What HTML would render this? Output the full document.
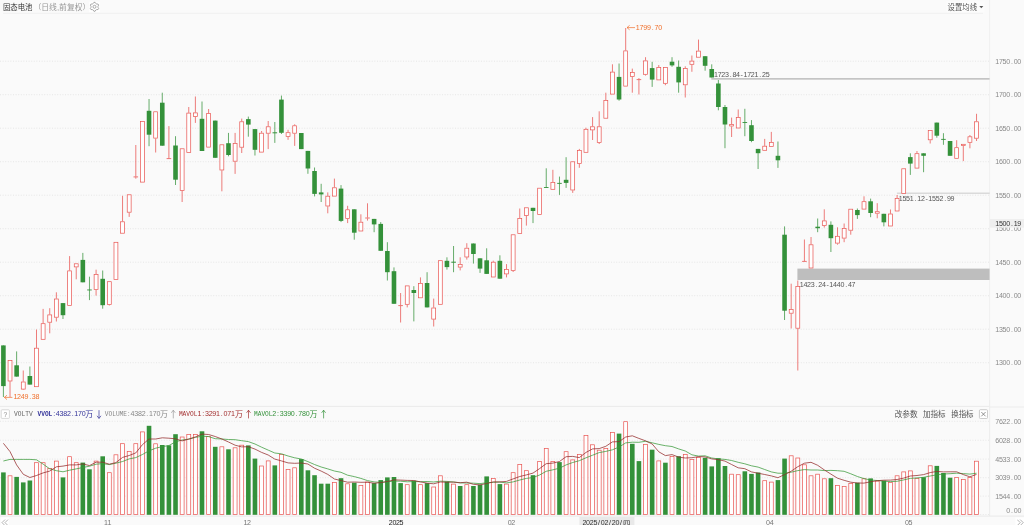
<!DOCTYPE html>
<html lang="zh"><head><meta charset="utf-8"><title>固态电池</title>
<style>html,body{margin:0;padding:0;background:#fafafa;overflow:hidden}svg{display:block}text{font-family:"Liberation Sans","Noto Sans CJK SC",sans-serif;}</style>
</head><body>
<svg width="1024" height="525" viewBox="0 0 1024 525">
<rect x="0" y="0" width="1024" height="525" fill="#fafafa"/>
<line x1="3" y1="13.4" x2="983" y2="13.4" stroke="#efefef" stroke-width="0.8"/>
<line x1="989.6" y1="0" x2="989.6" y2="516" stroke="#ececec" stroke-width="0.8"/>
<text x="3.0" y="10.2" font-size="7.60" fill="#333" textLength="29.5" lengthAdjust="spacingAndGlyphs">固态电池</text>
<text x="33.4" y="10.2" font-size="7.60" fill="#999" textLength="57.0" lengthAdjust="spacingAndGlyphs">（日线,前复权）</text>
<rect x="89.2" y="1.6" width="10.6" height="10.6" fill="#fff"/>
<g fill="none" stroke="#8a8a8a" stroke-width="0.7" stroke-linejoin="round"><path d="M93.91 2.34 L95.09 2.34 L95.84 3.57 L96.63 4.02 L98.07 4.06 L98.66 5.08 L97.97 6.34 L97.97 7.26 L98.66 8.52 L98.07 9.54 L96.63 9.58 L95.84 10.03 L95.09 11.26 L93.91 11.26 L93.16 10.03 L92.37 9.58 L90.93 9.54 L90.34 8.52 L91.03 7.26 L91.03 6.34 L90.34 5.08 L90.93 4.06 L92.37 4.02 L93.16 3.57 Z"/><circle cx="94.5" cy="6.8" r="1.5"/></g>
<rect x="946.5" y="1.6" width="38" height="10.6" fill="#fcfcfc"/>
<text x="947.6" y="10.2" font-size="7.60" fill="#555" textLength="29.5" lengthAdjust="spacingAndGlyphs">设置均线</text>
<path d="M979.3 6 L983.3 6 L981.3 8.2 Z" fill="#555"/>
<line x1="0" y1="362.7" x2="989.6" y2="362.7" stroke="#e0e0e0" stroke-width="0.7" stroke-dasharray="1 1.6"/>
<text transform="translate(995.40 365.1) scale(0.90 1)" x="2.04 6.13 10.22 14.31 18.40 22.49 26.58" y="0" font-size="7.90" fill="#8a8a8a" style="font-family:'Liberation Sans','Noto Sans CJK SC',sans-serif" text-anchor="middle">1300.00</text>
<line x1="0" y1="329.2" x2="989.6" y2="329.2" stroke="#e0e0e0" stroke-width="0.7" stroke-dasharray="1 1.6"/>
<text transform="translate(995.40 331.6) scale(0.90 1)" x="2.04 6.13 10.22 14.31 18.40 22.49 26.58" y="0" font-size="7.90" fill="#8a8a8a" style="font-family:'Liberation Sans','Noto Sans CJK SC',sans-serif" text-anchor="middle">1350.00</text>
<line x1="0" y1="295.7" x2="989.6" y2="295.7" stroke="#e0e0e0" stroke-width="0.7" stroke-dasharray="1 1.6"/>
<text transform="translate(995.40 298.1) scale(0.90 1)" x="2.04 6.13 10.22 14.31 18.40 22.49 26.58" y="0" font-size="7.90" fill="#8a8a8a" style="font-family:'Liberation Sans','Noto Sans CJK SC',sans-serif" text-anchor="middle">1400.00</text>
<line x1="0" y1="262.2" x2="989.6" y2="262.2" stroke="#e0e0e0" stroke-width="0.7" stroke-dasharray="1 1.6"/>
<text transform="translate(995.40 264.6) scale(0.90 1)" x="2.04 6.13 10.22 14.31 18.40 22.49 26.58" y="0" font-size="7.90" fill="#8a8a8a" style="font-family:'Liberation Sans','Noto Sans CJK SC',sans-serif" text-anchor="middle">1450.00</text>
<line x1="0" y1="228.7" x2="989.6" y2="228.7" stroke="#e0e0e0" stroke-width="0.7" stroke-dasharray="1 1.6"/>
<text transform="translate(995.40 231.1) scale(0.90 1)" x="2.04 6.13 10.22 14.31 18.40 22.49 26.58" y="0" font-size="7.90" fill="#8a8a8a" style="font-family:'Liberation Sans','Noto Sans CJK SC',sans-serif" text-anchor="middle">1500.00</text>
<line x1="0" y1="195.2" x2="989.6" y2="195.2" stroke="#e0e0e0" stroke-width="0.7" stroke-dasharray="1 1.6"/>
<text transform="translate(995.40 197.6) scale(0.90 1)" x="2.04 6.13 10.22 14.31 18.40 22.49 26.58" y="0" font-size="7.90" fill="#8a8a8a" style="font-family:'Liberation Sans','Noto Sans CJK SC',sans-serif" text-anchor="middle">1550.00</text>
<line x1="0" y1="161.7" x2="989.6" y2="161.7" stroke="#e0e0e0" stroke-width="0.7" stroke-dasharray="1 1.6"/>
<text transform="translate(995.40 164.1) scale(0.90 1)" x="2.04 6.13 10.22 14.31 18.40 22.49 26.58" y="0" font-size="7.90" fill="#8a8a8a" style="font-family:'Liberation Sans','Noto Sans CJK SC',sans-serif" text-anchor="middle">1600.00</text>
<line x1="0" y1="128.2" x2="989.6" y2="128.2" stroke="#e0e0e0" stroke-width="0.7" stroke-dasharray="1 1.6"/>
<text transform="translate(995.40 130.6) scale(0.90 1)" x="2.04 6.13 10.22 14.31 18.40 22.49 26.58" y="0" font-size="7.90" fill="#8a8a8a" style="font-family:'Liberation Sans','Noto Sans CJK SC',sans-serif" text-anchor="middle">1650.00</text>
<line x1="0" y1="94.7" x2="989.6" y2="94.7" stroke="#e0e0e0" stroke-width="0.7" stroke-dasharray="1 1.6"/>
<text transform="translate(995.40 97.1) scale(0.90 1)" x="2.04 6.13 10.22 14.31 18.40 22.49 26.58" y="0" font-size="7.90" fill="#8a8a8a" style="font-family:'Liberation Sans','Noto Sans CJK SC',sans-serif" text-anchor="middle">1700.00</text>
<line x1="0" y1="61.2" x2="989.6" y2="61.2" stroke="#e0e0e0" stroke-width="0.7" stroke-dasharray="1 1.6"/>
<text transform="translate(995.40 63.6) scale(0.90 1)" x="2.04 6.13 10.22 14.31 18.40 22.49 26.58" y="0" font-size="7.90" fill="#8a8a8a" style="font-family:'Liberation Sans','Noto Sans CJK SC',sans-serif" text-anchor="middle">1750.00</text>
<rect x="711.3" y="78" width="278.3" height="1.7" fill="#c4c4c4"/>
<text transform="translate(714.10 76.7) scale(0.90 1)" x="2.05 6.15 10.25 14.35 18.45 22.55 26.65 30.75 34.85 38.95 43.05 47.15 51.25 55.35 59.45" y="0" font-size="7.90" fill="#555" style="font-family:'Liberation Sans','Noto Sans CJK SC',sans-serif" text-anchor="middle">1723.84-1721.25</text>
<rect x="896.9" y="192.8" width="92.7" height="0.6" fill="#aaa"/>
<text transform="translate(898.80 201.1) scale(0.90 1)" x="2.06 6.18 10.31 14.43 18.55 22.67 26.79 30.92 35.04 39.16 43.28 47.41 51.53 55.65 59.77" y="0" font-size="7.90" fill="#555" style="font-family:'Liberation Sans','Noto Sans CJK SC',sans-serif" text-anchor="middle">1551.12-1552.99</text>
<rect x="797.4" y="268.6" width="192.2" height="11.4" fill="#bebebe"/>
<text transform="translate(799.80 286.8) scale(0.90 1)" x="2.06 6.18 10.31 14.43 18.55 22.67 26.79 30.92 35.04 39.16 43.28 47.41 51.53 55.65 59.77" y="0" font-size="7.90" fill="#555" style="font-family:'Liberation Sans','Noto Sans CJK SC',sans-serif" text-anchor="middle">1423.24-1440.47</text>
<line x1="3.40" y1="345.4" x2="3.40" y2="397.0" stroke="#34913a" stroke-width="0.75"/>
<rect x="1.10" y="345.4" width="4.6" height="40.7" fill="#34913a"/>
<line x1="10.02" y1="381.3" x2="10.02" y2="397.0" stroke="#e8524f" stroke-width="0.75"/>
<rect x="8.07" y="360.6" width="3.9" height="20.4" fill="#fff" stroke="#e8524f" stroke-width="0.7"/>
<line x1="16.64" y1="351.4" x2="16.64" y2="376.6" stroke="#34913a" stroke-width="0.75"/>
<rect x="14.34" y="365.3" width="4.6" height="11.3" fill="#34913a"/>
<line x1="23.26" y1="370.5" x2="23.26" y2="381.6" stroke="#e8524f" stroke-width="0.75"/>
<line x1="23.26" y1="389.4" x2="23.26" y2="389.9" stroke="#e8524f" stroke-width="0.75"/>
<rect x="21.31" y="382.0" width="3.9" height="7.1" fill="#fff" stroke="#e8524f" stroke-width="0.7"/>
<line x1="29.88" y1="366.5" x2="29.88" y2="384.6" stroke="#34913a" stroke-width="0.75"/>
<rect x="27.58" y="376.0" width="4.6" height="8.6" fill="#34913a"/>
<line x1="36.50" y1="329.5" x2="36.50" y2="347.9" stroke="#e8524f" stroke-width="0.75"/>
<rect x="34.55" y="348.2" width="3.9" height="38.5" fill="#fff" stroke="#e8524f" stroke-width="0.7"/>
<line x1="43.12" y1="308.9" x2="43.12" y2="323.3" stroke="#e8524f" stroke-width="0.75"/>
<rect x="41.17" y="323.7" width="3.9" height="15.6" fill="#fff" stroke="#e8524f" stroke-width="0.7"/>
<line x1="49.74" y1="308.2" x2="49.74" y2="314.5" stroke="#e8524f" stroke-width="0.75"/>
<line x1="49.74" y1="322.5" x2="49.74" y2="333.3" stroke="#e8524f" stroke-width="0.75"/>
<rect x="47.79" y="314.9" width="3.9" height="7.3" fill="#fff" stroke="#e8524f" stroke-width="0.7"/>
<line x1="56.36" y1="292.3" x2="56.36" y2="298.6" stroke="#e8524f" stroke-width="0.75"/>
<line x1="56.36" y1="317.5" x2="56.36" y2="321.5" stroke="#e8524f" stroke-width="0.75"/>
<rect x="54.41" y="299.0" width="3.9" height="18.2" fill="#fff" stroke="#e8524f" stroke-width="0.7"/>
<line x1="62.98" y1="303.1" x2="62.98" y2="319.0" stroke="#34913a" stroke-width="0.75"/>
<rect x="60.68" y="303.1" width="4.6" height="12.1" fill="#34913a"/>
<line x1="69.60" y1="256.1" x2="69.60" y2="270.5" stroke="#e8524f" stroke-width="0.75"/>
<rect x="67.65" y="270.9" width="3.9" height="34.5" fill="#fff" stroke="#e8524f" stroke-width="0.7"/>
<line x1="76.22" y1="267.2" x2="76.22" y2="279.3" stroke="#e8524f" stroke-width="0.75"/>
<rect x="74.27" y="263.8" width="3.9" height="3.1" fill="#fff" stroke="#e8524f" stroke-width="0.7"/>
<line x1="82.84" y1="252.9" x2="82.84" y2="282.3" stroke="#34913a" stroke-width="0.75"/>
<rect x="80.54" y="259.9" width="4.6" height="22.4" fill="#34913a"/>
<line x1="89.46" y1="276.7" x2="89.46" y2="300.1" stroke="#34913a" stroke-width="0.75"/>
<rect x="87.16" y="289.5" width="4.6" height="0.9" fill="#34913a"/>
<line x1="96.08" y1="269.7" x2="96.08" y2="274.2" stroke="#e8524f" stroke-width="0.75"/>
<line x1="96.08" y1="289.8" x2="96.08" y2="295.6" stroke="#e8524f" stroke-width="0.75"/>
<rect x="94.13" y="274.6" width="3.9" height="14.9" fill="#fff" stroke="#e8524f" stroke-width="0.7"/>
<line x1="102.70" y1="270.5" x2="102.70" y2="308.7" stroke="#34913a" stroke-width="0.75"/>
<rect x="100.40" y="278.8" width="4.6" height="26.4" fill="#34913a"/>
<line x1="109.32" y1="304.9" x2="109.32" y2="305.5" stroke="#e8524f" stroke-width="0.75"/>
<rect x="107.37" y="281.7" width="3.9" height="22.9" fill="#fff" stroke="#e8524f" stroke-width="0.7"/>
<rect x="113.99" y="242.3" width="3.9" height="37.3" fill="#fff" stroke="#e8524f" stroke-width="0.7"/>
<line x1="122.56" y1="195.8" x2="122.56" y2="221.4" stroke="#e8524f" stroke-width="0.75"/>
<rect x="120.61" y="221.8" width="3.9" height="11.4" fill="#fff" stroke="#e8524f" stroke-width="0.7"/>
<line x1="129.18" y1="212.6" x2="129.18" y2="216.9" stroke="#e8524f" stroke-width="0.75"/>
<rect x="127.23" y="194.8" width="3.9" height="17.4" fill="#fff" stroke="#e8524f" stroke-width="0.7"/>
<line x1="135.80" y1="145.0" x2="135.80" y2="176.6" stroke="#e8524f" stroke-width="0.75"/>
<line x1="135.80" y1="177.2" x2="135.80" y2="178.7" stroke="#e8524f" stroke-width="0.75"/>
<line x1="133.50" y1="176.9" x2="138.10" y2="176.9" stroke="#e8524f" stroke-width="0.8"/>
<rect x="140.47" y="121.4" width="3.9" height="60.7" fill="#fff" stroke="#e8524f" stroke-width="0.7"/>
<line x1="149.04" y1="99.0" x2="149.04" y2="146.2" stroke="#34913a" stroke-width="0.75"/>
<rect x="146.74" y="110.8" width="4.6" height="23.9" fill="#34913a"/>
<line x1="155.66" y1="138.5" x2="155.66" y2="152.5" stroke="#e8524f" stroke-width="0.75"/>
<rect x="153.71" y="111.8" width="3.9" height="26.3" fill="#fff" stroke="#e8524f" stroke-width="0.7"/>
<line x1="162.28" y1="92.7" x2="162.28" y2="145.7" stroke="#34913a" stroke-width="0.75"/>
<rect x="159.98" y="102.7" width="4.6" height="43.0" fill="#34913a"/>
<line x1="168.90" y1="126.1" x2="168.90" y2="158.3" stroke="#e8524f" stroke-width="0.75"/>
<line x1="166.60" y1="158.6" x2="171.20" y2="158.6" stroke="#e8524f" stroke-width="0.8"/>
<line x1="175.52" y1="136.2" x2="175.52" y2="185.0" stroke="#34913a" stroke-width="0.75"/>
<rect x="173.22" y="145.5" width="4.6" height="34.2" fill="#34913a"/>
<line x1="182.14" y1="190.8" x2="182.14" y2="202.0" stroke="#e8524f" stroke-width="0.75"/>
<rect x="180.19" y="148.8" width="3.9" height="41.6" fill="#fff" stroke="#e8524f" stroke-width="0.7"/>
<line x1="188.76" y1="107.0" x2="188.76" y2="112.8" stroke="#e8524f" stroke-width="0.75"/>
<rect x="186.81" y="113.1" width="3.9" height="39.5" fill="#fff" stroke="#e8524f" stroke-width="0.7"/>
<line x1="195.38" y1="96.5" x2="195.38" y2="112.6" stroke="#e8524f" stroke-width="0.75"/>
<line x1="195.38" y1="116.8" x2="195.38" y2="122.9" stroke="#e8524f" stroke-width="0.75"/>
<rect x="193.43" y="112.9" width="3.9" height="3.5" fill="#fff" stroke="#e8524f" stroke-width="0.7"/>
<line x1="202.00" y1="101.5" x2="202.00" y2="151.0" stroke="#34913a" stroke-width="0.75"/>
<rect x="199.70" y="118.8" width="4.6" height="32.2" fill="#34913a"/>
<line x1="208.62" y1="109.0" x2="208.62" y2="113.3" stroke="#e8524f" stroke-width="0.75"/>
<rect x="206.67" y="113.6" width="3.9" height="33.5" fill="#fff" stroke="#e8524f" stroke-width="0.7"/>
<line x1="215.24" y1="120.6" x2="215.24" y2="157.8" stroke="#34913a" stroke-width="0.75"/>
<rect x="212.94" y="120.6" width="4.6" height="37.2" fill="#34913a"/>
<line x1="221.86" y1="170.4" x2="221.86" y2="191.3" stroke="#e8524f" stroke-width="0.75"/>
<rect x="219.91" y="144.8" width="3.9" height="25.2" fill="#fff" stroke="#e8524f" stroke-width="0.7"/>
<line x1="228.48" y1="132.9" x2="228.48" y2="156.3" stroke="#34913a" stroke-width="0.75"/>
<rect x="226.18" y="143.2" width="4.6" height="11.8" fill="#34913a"/>
<line x1="235.10" y1="132.9" x2="235.10" y2="143.2" stroke="#e8524f" stroke-width="0.75"/>
<line x1="235.10" y1="161.6" x2="235.10" y2="173.9" stroke="#e8524f" stroke-width="0.75"/>
<rect x="233.15" y="143.5" width="3.9" height="17.7" fill="#fff" stroke="#e8524f" stroke-width="0.7"/>
<line x1="241.72" y1="118.6" x2="241.72" y2="121.4" stroke="#e8524f" stroke-width="0.75"/>
<line x1="241.72" y1="147.5" x2="241.72" y2="153.0" stroke="#e8524f" stroke-width="0.75"/>
<rect x="239.77" y="121.8" width="3.9" height="25.4" fill="#fff" stroke="#e8524f" stroke-width="0.7"/>
<line x1="248.34" y1="116.6" x2="248.34" y2="136.7" stroke="#34913a" stroke-width="0.75"/>
<rect x="246.04" y="119.1" width="4.6" height="5.5" fill="#34913a"/>
<line x1="254.96" y1="129.1" x2="254.96" y2="155.5" stroke="#34913a" stroke-width="0.75"/>
<rect x="252.66" y="129.1" width="4.6" height="20.7" fill="#34913a"/>
<line x1="261.58" y1="131.0" x2="261.58" y2="132.8" stroke="#e8524f" stroke-width="0.75"/>
<rect x="259.63" y="133.2" width="3.9" height="18.9" fill="#fff" stroke="#e8524f" stroke-width="0.7"/>
<line x1="268.20" y1="121.0" x2="268.20" y2="126.5" stroke="#e8524f" stroke-width="0.75"/>
<line x1="268.20" y1="133.6" x2="268.20" y2="149.1" stroke="#e8524f" stroke-width="0.75"/>
<rect x="266.25" y="126.8" width="3.9" height="6.4" fill="#fff" stroke="#e8524f" stroke-width="0.7"/>
<line x1="274.82" y1="122.0" x2="274.82" y2="142.9" stroke="#34913a" stroke-width="0.75"/>
<rect x="272.52" y="132.3" width="4.6" height="1.0" fill="#34913a"/>
<line x1="281.44" y1="95.6" x2="281.44" y2="134.0" stroke="#34913a" stroke-width="0.75"/>
<rect x="279.14" y="99.6" width="4.6" height="33.2" fill="#34913a"/>
<line x1="288.06" y1="129.8" x2="288.06" y2="132.3" stroke="#e8524f" stroke-width="0.75"/>
<line x1="288.06" y1="136.8" x2="288.06" y2="139.8" stroke="#e8524f" stroke-width="0.75"/>
<rect x="286.11" y="132.7" width="3.9" height="3.8" fill="#fff" stroke="#e8524f" stroke-width="0.7"/>
<line x1="294.68" y1="124.3" x2="294.68" y2="125.5" stroke="#e8524f" stroke-width="0.75"/>
<line x1="294.68" y1="133.6" x2="294.68" y2="145.9" stroke="#e8524f" stroke-width="0.75"/>
<rect x="292.73" y="125.8" width="3.9" height="7.4" fill="#fff" stroke="#e8524f" stroke-width="0.7"/>
<line x1="301.30" y1="133.0" x2="301.30" y2="149.1" stroke="#34913a" stroke-width="0.75"/>
<rect x="299.00" y="133.0" width="4.6" height="16.1" fill="#34913a"/>
<line x1="307.92" y1="150.9" x2="307.92" y2="173.8" stroke="#34913a" stroke-width="0.75"/>
<rect x="305.62" y="150.9" width="4.6" height="17.6" fill="#34913a"/>
<line x1="314.54" y1="167.5" x2="314.54" y2="196.4" stroke="#34913a" stroke-width="0.75"/>
<rect x="312.24" y="171.0" width="4.6" height="22.9" fill="#34913a"/>
<line x1="321.16" y1="183.8" x2="321.16" y2="202.0" stroke="#34913a" stroke-width="0.75"/>
<rect x="318.86" y="192.4" width="4.6" height="2.0" fill="#34913a"/>
<line x1="327.78" y1="192.4" x2="327.78" y2="195.9" stroke="#e8524f" stroke-width="0.75"/>
<line x1="327.78" y1="206.4" x2="327.78" y2="213.3" stroke="#e8524f" stroke-width="0.75"/>
<rect x="325.83" y="196.2" width="3.9" height="9.8" fill="#fff" stroke="#e8524f" stroke-width="0.7"/>
<line x1="334.40" y1="178.6" x2="334.40" y2="187.4" stroke="#e8524f" stroke-width="0.75"/>
<rect x="332.45" y="187.8" width="3.9" height="8.3" fill="#fff" stroke="#e8524f" stroke-width="0.7"/>
<line x1="341.02" y1="185.1" x2="341.02" y2="222.1" stroke="#34913a" stroke-width="0.75"/>
<rect x="338.72" y="188.6" width="4.6" height="32.3" fill="#34913a"/>
<line x1="347.64" y1="205.8" x2="347.64" y2="209.5" stroke="#e8524f" stroke-width="0.75"/>
<line x1="347.64" y1="218.9" x2="347.64" y2="223.1" stroke="#e8524f" stroke-width="0.75"/>
<rect x="345.69" y="209.8" width="3.9" height="8.7" fill="#fff" stroke="#e8524f" stroke-width="0.7"/>
<line x1="354.26" y1="209.3" x2="354.26" y2="239.7" stroke="#34913a" stroke-width="0.75"/>
<rect x="351.96" y="209.3" width="4.6" height="23.4" fill="#34913a"/>
<line x1="360.88" y1="214.3" x2="360.88" y2="221.9" stroke="#e8524f" stroke-width="0.75"/>
<rect x="358.93" y="222.2" width="3.9" height="8.8" fill="#fff" stroke="#e8524f" stroke-width="0.7"/>
<line x1="367.50" y1="203.3" x2="367.50" y2="217.6" stroke="#e8524f" stroke-width="0.75"/>
<line x1="367.50" y1="218.4" x2="367.50" y2="220.6" stroke="#e8524f" stroke-width="0.75"/>
<line x1="365.20" y1="218.0" x2="369.80" y2="218.0" stroke="#e8524f" stroke-width="0.8"/>
<line x1="374.12" y1="218.9" x2="374.12" y2="232.2" stroke="#34913a" stroke-width="0.75"/>
<rect x="371.82" y="218.9" width="4.6" height="5.5" fill="#34913a"/>
<line x1="380.74" y1="222.1" x2="380.74" y2="250.8" stroke="#34913a" stroke-width="0.75"/>
<rect x="378.44" y="223.9" width="4.6" height="26.9" fill="#34913a"/>
<line x1="387.36" y1="242.2" x2="387.36" y2="280.5" stroke="#34913a" stroke-width="0.75"/>
<rect x="385.06" y="251.0" width="4.6" height="21.2" fill="#34913a"/>
<line x1="393.98" y1="267.4" x2="393.98" y2="303.8" stroke="#34913a" stroke-width="0.75"/>
<rect x="391.68" y="271.2" width="4.6" height="32.6" fill="#34913a"/>
<line x1="400.60" y1="293.0" x2="400.60" y2="305.3" stroke="#e8524f" stroke-width="0.75"/>
<line x1="400.60" y1="305.9" x2="400.60" y2="322.5" stroke="#e8524f" stroke-width="0.75"/>
<line x1="398.30" y1="305.6" x2="402.90" y2="305.6" stroke="#e8524f" stroke-width="0.8"/>
<line x1="407.22" y1="304.6" x2="407.22" y2="307.4" stroke="#e8524f" stroke-width="0.75"/>
<rect x="405.27" y="285.9" width="3.9" height="18.4" fill="#fff" stroke="#e8524f" stroke-width="0.7"/>
<line x1="413.84" y1="286.2" x2="413.84" y2="321.4" stroke="#34913a" stroke-width="0.75"/>
<rect x="411.54" y="290.0" width="4.6" height="3.0" fill="#34913a"/>
<line x1="420.46" y1="277.4" x2="420.46" y2="283.0" stroke="#e8524f" stroke-width="0.75"/>
<rect x="418.51" y="283.4" width="3.9" height="14.4" fill="#fff" stroke="#e8524f" stroke-width="0.7"/>
<line x1="427.08" y1="272.2" x2="427.08" y2="307.4" stroke="#34913a" stroke-width="0.75"/>
<rect x="424.78" y="283.0" width="4.6" height="24.4" fill="#34913a"/>
<line x1="433.70" y1="298.6" x2="433.70" y2="307.6" stroke="#e8524f" stroke-width="0.75"/>
<line x1="433.70" y1="319.4" x2="433.70" y2="326.5" stroke="#e8524f" stroke-width="0.75"/>
<rect x="431.75" y="308.0" width="3.9" height="11.1" fill="#fff" stroke="#e8524f" stroke-width="0.7"/>
<rect x="438.37" y="260.7" width="3.9" height="43.6" fill="#fff" stroke="#e8524f" stroke-width="0.7"/>
<line x1="446.94" y1="257.3" x2="446.94" y2="269.6" stroke="#34913a" stroke-width="0.75"/>
<rect x="444.64" y="260.8" width="4.6" height="6.3" fill="#34913a"/>
<line x1="453.56" y1="246.0" x2="453.56" y2="272.2" stroke="#34913a" stroke-width="0.75"/>
<rect x="451.26" y="261.7" width="4.6" height="1.0" fill="#34913a"/>
<line x1="460.18" y1="257.3" x2="460.18" y2="264.1" stroke="#e8524f" stroke-width="0.75"/>
<line x1="460.18" y1="267.4" x2="460.18" y2="270.4" stroke="#e8524f" stroke-width="0.75"/>
<rect x="458.23" y="264.5" width="3.9" height="2.6" fill="#fff" stroke="#e8524f" stroke-width="0.7"/>
<line x1="466.80" y1="243.2" x2="466.80" y2="247.8" stroke="#e8524f" stroke-width="0.75"/>
<line x1="466.80" y1="257.3" x2="466.80" y2="259.6" stroke="#e8524f" stroke-width="0.75"/>
<rect x="464.85" y="248.2" width="3.9" height="8.8" fill="#fff" stroke="#e8524f" stroke-width="0.7"/>
<line x1="473.42" y1="243.5" x2="473.42" y2="263.6" stroke="#34913a" stroke-width="0.75"/>
<rect x="471.12" y="243.5" width="4.6" height="10.5" fill="#34913a"/>
<line x1="480.04" y1="258.3" x2="480.04" y2="272.9" stroke="#34913a" stroke-width="0.75"/>
<rect x="477.74" y="258.3" width="4.6" height="10.3" fill="#34913a"/>
<line x1="486.66" y1="248.3" x2="486.66" y2="273.9" stroke="#34913a" stroke-width="0.75"/>
<rect x="484.36" y="260.3" width="4.6" height="13.6" fill="#34913a"/>
<line x1="493.28" y1="260.7" x2="493.28" y2="261.9" stroke="#e8524f" stroke-width="0.75"/>
<rect x="491.33" y="262.2" width="3.9" height="14.8" fill="#fff" stroke="#e8524f" stroke-width="0.7"/>
<line x1="499.90" y1="255.3" x2="499.90" y2="278.7" stroke="#34913a" stroke-width="0.75"/>
<rect x="497.60" y="260.8" width="4.6" height="17.9" fill="#34913a"/>
<line x1="506.52" y1="264.1" x2="506.52" y2="269.1" stroke="#e8524f" stroke-width="0.75"/>
<line x1="506.52" y1="274.2" x2="506.52" y2="277.4" stroke="#e8524f" stroke-width="0.75"/>
<rect x="504.57" y="269.5" width="3.9" height="4.4" fill="#fff" stroke="#e8524f" stroke-width="0.7"/>
<line x1="513.14" y1="271.0" x2="513.14" y2="272.0" stroke="#e8524f" stroke-width="0.75"/>
<rect x="511.19" y="234.8" width="3.9" height="35.8" fill="#fff" stroke="#e8524f" stroke-width="0.7"/>
<line x1="519.76" y1="208.5" x2="519.76" y2="218.1" stroke="#e8524f" stroke-width="0.75"/>
<rect x="517.81" y="218.4" width="3.9" height="15.1" fill="#fff" stroke="#e8524f" stroke-width="0.7"/>
<line x1="526.38" y1="215.8" x2="526.38" y2="225.6" stroke="#e8524f" stroke-width="0.75"/>
<rect x="524.43" y="207.8" width="3.9" height="7.6" fill="#fff" stroke="#e8524f" stroke-width="0.7"/>
<line x1="533.00" y1="207.8" x2="533.00" y2="223.1" stroke="#34913a" stroke-width="0.75"/>
<rect x="530.70" y="207.8" width="4.6" height="3.2" fill="#34913a"/>
<rect x="537.67" y="188.2" width="3.9" height="26.2" fill="#fff" stroke="#e8524f" stroke-width="0.7"/>
<line x1="546.24" y1="168.3" x2="546.24" y2="187.7" stroke="#34913a" stroke-width="0.75"/>
<rect x="543.94" y="187.1" width="4.6" height="0.9" fill="#34913a"/>
<line x1="552.86" y1="169.8" x2="552.86" y2="182.1" stroke="#e8524f" stroke-width="0.75"/>
<rect x="550.91" y="182.4" width="3.9" height="6.9" fill="#fff" stroke="#e8524f" stroke-width="0.7"/>
<line x1="559.48" y1="176.6" x2="559.48" y2="194.9" stroke="#34913a" stroke-width="0.75"/>
<rect x="557.18" y="182.9" width="4.6" height="0.9" fill="#34913a"/>
<line x1="566.10" y1="157.2" x2="566.10" y2="187.9" stroke="#34913a" stroke-width="0.75"/>
<rect x="563.80" y="179.8" width="4.6" height="3.1" fill="#34913a"/>
<line x1="572.72" y1="190.4" x2="572.72" y2="192.9" stroke="#e8524f" stroke-width="0.75"/>
<rect x="570.77" y="161.8" width="3.9" height="28.2" fill="#fff" stroke="#e8524f" stroke-width="0.7"/>
<line x1="579.34" y1="148.9" x2="579.34" y2="150.2" stroke="#e8524f" stroke-width="0.75"/>
<line x1="579.34" y1="164.0" x2="579.34" y2="167.8" stroke="#e8524f" stroke-width="0.75"/>
<rect x="577.39" y="150.5" width="3.9" height="13.1" fill="#fff" stroke="#e8524f" stroke-width="0.7"/>
<line x1="585.96" y1="127.7" x2="585.96" y2="129.0" stroke="#e8524f" stroke-width="0.75"/>
<rect x="584.01" y="129.3" width="3.9" height="23.0" fill="#fff" stroke="#e8524f" stroke-width="0.7"/>
<line x1="592.58" y1="117.1" x2="592.58" y2="126.4" stroke="#e8524f" stroke-width="0.75"/>
<line x1="592.58" y1="130.2" x2="592.58" y2="140.0" stroke="#e8524f" stroke-width="0.75"/>
<rect x="590.63" y="126.8" width="3.9" height="3.1" fill="#fff" stroke="#e8524f" stroke-width="0.7"/>
<line x1="599.20" y1="111.3" x2="599.20" y2="126.4" stroke="#e8524f" stroke-width="0.75"/>
<line x1="599.20" y1="142.9" x2="599.20" y2="144.0" stroke="#e8524f" stroke-width="0.75"/>
<rect x="597.25" y="126.8" width="3.9" height="15.8" fill="#fff" stroke="#e8524f" stroke-width="0.7"/>
<line x1="605.82" y1="92.7" x2="605.82" y2="100.2" stroke="#e8524f" stroke-width="0.75"/>
<rect x="603.87" y="100.5" width="3.9" height="17.7" fill="#fff" stroke="#e8524f" stroke-width="0.7"/>
<line x1="612.44" y1="64.3" x2="612.44" y2="71.8" stroke="#e8524f" stroke-width="0.75"/>
<rect x="610.49" y="72.1" width="3.9" height="22.0" fill="#fff" stroke="#e8524f" stroke-width="0.7"/>
<line x1="619.06" y1="63.5" x2="619.06" y2="100.7" stroke="#34913a" stroke-width="0.75"/>
<rect x="616.76" y="76.9" width="4.6" height="22.6" fill="#34913a"/>
<line x1="625.68" y1="28.0" x2="625.68" y2="50.5" stroke="#e8524f" stroke-width="0.75"/>
<rect x="623.73" y="50.9" width="3.9" height="35.2" fill="#fff" stroke="#e8524f" stroke-width="0.7"/>
<line x1="632.30" y1="68.6" x2="632.30" y2="72.1" stroke="#e8524f" stroke-width="0.75"/>
<line x1="632.30" y1="76.9" x2="632.30" y2="92.7" stroke="#e8524f" stroke-width="0.75"/>
<rect x="630.35" y="72.4" width="3.9" height="4.1" fill="#fff" stroke="#e8524f" stroke-width="0.7"/>
<line x1="638.92" y1="78.1" x2="638.92" y2="79.2" stroke="#e8524f" stroke-width="0.75"/>
<line x1="638.92" y1="79.9" x2="638.92" y2="94.5" stroke="#e8524f" stroke-width="0.75"/>
<line x1="636.62" y1="79.6" x2="641.22" y2="79.6" stroke="#e8524f" stroke-width="0.8"/>
<line x1="645.54" y1="57.2" x2="645.54" y2="60.5" stroke="#e8524f" stroke-width="0.75"/>
<line x1="645.54" y1="74.6" x2="645.54" y2="75.6" stroke="#e8524f" stroke-width="0.75"/>
<rect x="643.59" y="60.9" width="3.9" height="13.4" fill="#fff" stroke="#e8524f" stroke-width="0.7"/>
<line x1="652.16" y1="61.8" x2="652.16" y2="86.9" stroke="#34913a" stroke-width="0.75"/>
<rect x="649.86" y="68.1" width="4.6" height="11.5" fill="#34913a"/>
<line x1="658.78" y1="65.0" x2="658.78" y2="67.3" stroke="#e8524f" stroke-width="0.75"/>
<rect x="656.83" y="67.6" width="3.9" height="12.3" fill="#fff" stroke="#e8524f" stroke-width="0.7"/>
<line x1="665.40" y1="83.7" x2="665.40" y2="85.2" stroke="#e8524f" stroke-width="0.75"/>
<rect x="663.45" y="67.6" width="3.9" height="15.7" fill="#fff" stroke="#e8524f" stroke-width="0.7"/>
<line x1="672.02" y1="57.2" x2="672.02" y2="66.8" stroke="#34913a" stroke-width="0.75"/>
<rect x="669.72" y="61.7" width="4.6" height="3.7" fill="#34913a"/>
<line x1="678.64" y1="60.5" x2="678.64" y2="92.7" stroke="#34913a" stroke-width="0.75"/>
<rect x="676.34" y="66.8" width="4.6" height="15.6" fill="#34913a"/>
<line x1="685.26" y1="66.3" x2="685.26" y2="68.3" stroke="#e8524f" stroke-width="0.75"/>
<line x1="685.26" y1="85.2" x2="685.26" y2="97.5" stroke="#e8524f" stroke-width="0.75"/>
<rect x="683.31" y="68.6" width="3.9" height="16.2" fill="#fff" stroke="#e8524f" stroke-width="0.7"/>
<line x1="691.88" y1="55.5" x2="691.88" y2="60.8" stroke="#e8524f" stroke-width="0.75"/>
<line x1="691.88" y1="64.7" x2="691.88" y2="71.8" stroke="#e8524f" stroke-width="0.75"/>
<rect x="689.93" y="61.1" width="3.9" height="3.2" fill="#fff" stroke="#e8524f" stroke-width="0.7"/>
<line x1="698.50" y1="39.6" x2="698.50" y2="50.7" stroke="#e8524f" stroke-width="0.75"/>
<rect x="696.55" y="51.1" width="3.9" height="6.1" fill="#fff" stroke="#e8524f" stroke-width="0.7"/>
<line x1="705.12" y1="56.2" x2="705.12" y2="70.7" stroke="#34913a" stroke-width="0.75"/>
<rect x="702.82" y="56.2" width="4.6" height="9.6" fill="#34913a"/>
<line x1="711.74" y1="64.3" x2="711.74" y2="77.5" stroke="#34913a" stroke-width="0.75"/>
<rect x="709.44" y="69.0" width="4.6" height="8.5" fill="#34913a"/>
<line x1="718.36" y1="80.0" x2="718.36" y2="110.3" stroke="#34913a" stroke-width="0.75"/>
<rect x="716.06" y="83.5" width="4.6" height="23.5" fill="#34913a"/>
<line x1="724.98" y1="105.0" x2="724.98" y2="148.2" stroke="#34913a" stroke-width="0.75"/>
<rect x="722.68" y="107.0" width="4.6" height="17.5" fill="#34913a"/>
<line x1="731.60" y1="117.6" x2="731.60" y2="124.1" stroke="#e8524f" stroke-width="0.75"/>
<line x1="731.60" y1="126.4" x2="731.60" y2="137.0" stroke="#e8524f" stroke-width="0.75"/>
<rect x="729.65" y="124.4" width="3.9" height="1.6" fill="#fff" stroke="#e8524f" stroke-width="0.7"/>
<line x1="738.22" y1="109.5" x2="738.22" y2="117.3" stroke="#e8524f" stroke-width="0.75"/>
<rect x="736.27" y="117.6" width="3.9" height="10.4" fill="#fff" stroke="#e8524f" stroke-width="0.7"/>
<line x1="744.84" y1="108.8" x2="744.84" y2="136.2" stroke="#34913a" stroke-width="0.75"/>
<rect x="742.54" y="122.0" width="4.6" height="0.9" fill="#34913a"/>
<line x1="751.46" y1="120.1" x2="751.46" y2="142.2" stroke="#34913a" stroke-width="0.75"/>
<rect x="749.16" y="125.2" width="4.6" height="15.8" fill="#34913a"/>
<line x1="758.08" y1="148.9" x2="758.08" y2="169.0" stroke="#34913a" stroke-width="0.75"/>
<rect x="755.78" y="148.9" width="4.6" height="4.3" fill="#34913a"/>
<line x1="764.70" y1="138.9" x2="764.70" y2="145.9" stroke="#e8524f" stroke-width="0.75"/>
<rect x="762.75" y="146.2" width="3.9" height="4.1" fill="#fff" stroke="#e8524f" stroke-width="0.7"/>
<line x1="771.32" y1="131.9" x2="771.32" y2="142.2" stroke="#e8524f" stroke-width="0.75"/>
<rect x="769.37" y="142.5" width="3.9" height="4.1" fill="#fff" stroke="#e8524f" stroke-width="0.7"/>
<line x1="777.94" y1="141.5" x2="777.94" y2="167.9" stroke="#34913a" stroke-width="0.75"/>
<rect x="775.64" y="155.8" width="4.6" height="4.5" fill="#34913a"/>
<line x1="784.56" y1="226.4" x2="784.56" y2="320.0" stroke="#34913a" stroke-width="0.75"/>
<rect x="782.26" y="234.7" width="4.6" height="76.0" fill="#34913a"/>
<line x1="791.18" y1="283.7" x2="791.18" y2="309.2" stroke="#e8524f" stroke-width="0.75"/>
<line x1="791.18" y1="313.5" x2="791.18" y2="328.5" stroke="#e8524f" stroke-width="0.75"/>
<rect x="789.23" y="309.6" width="3.9" height="3.6" fill="#fff" stroke="#e8524f" stroke-width="0.7"/>
<line x1="797.80" y1="280.5" x2="797.80" y2="286.2" stroke="#e8524f" stroke-width="0.75"/>
<line x1="797.80" y1="328.5" x2="797.80" y2="370.5" stroke="#e8524f" stroke-width="0.75"/>
<rect x="795.85" y="286.6" width="3.9" height="41.6" fill="#fff" stroke="#e8524f" stroke-width="0.7"/>
<line x1="804.42" y1="239.5" x2="804.42" y2="261.1" stroke="#e8524f" stroke-width="0.75"/>
<line x1="802.12" y1="261.4" x2="806.72" y2="261.4" stroke="#e8524f" stroke-width="0.8"/>
<line x1="811.04" y1="237.0" x2="811.04" y2="244.5" stroke="#e8524f" stroke-width="0.75"/>
<rect x="809.09" y="244.8" width="3.9" height="23.2" fill="#fff" stroke="#e8524f" stroke-width="0.7"/>
<line x1="817.66" y1="218.5" x2="817.66" y2="232.2" stroke="#34913a" stroke-width="0.75"/>
<rect x="815.36" y="226.7" width="4.6" height="1.5" fill="#34913a"/>
<line x1="824.28" y1="209.3" x2="824.28" y2="220.6" stroke="#e8524f" stroke-width="0.75"/>
<line x1="824.28" y1="225.8" x2="824.28" y2="227.6" stroke="#e8524f" stroke-width="0.75"/>
<rect x="822.33" y="220.9" width="3.9" height="4.5" fill="#fff" stroke="#e8524f" stroke-width="0.7"/>
<line x1="830.90" y1="221.4" x2="830.90" y2="252.0" stroke="#34913a" stroke-width="0.75"/>
<rect x="828.60" y="224.8" width="4.6" height="13.4" fill="#34913a"/>
<line x1="837.52" y1="227.3" x2="837.52" y2="236.0" stroke="#e8524f" stroke-width="0.75"/>
<line x1="837.52" y1="243.5" x2="837.52" y2="244.7" stroke="#e8524f" stroke-width="0.75"/>
<rect x="835.57" y="236.3" width="3.9" height="6.8" fill="#fff" stroke="#e8524f" stroke-width="0.7"/>
<line x1="844.14" y1="223.5" x2="844.14" y2="228.2" stroke="#e8524f" stroke-width="0.75"/>
<line x1="844.14" y1="238.5" x2="844.14" y2="242.2" stroke="#e8524f" stroke-width="0.75"/>
<rect x="842.19" y="228.5" width="3.9" height="9.6" fill="#fff" stroke="#e8524f" stroke-width="0.7"/>
<line x1="850.76" y1="230.5" x2="850.76" y2="234.7" stroke="#e8524f" stroke-width="0.75"/>
<rect x="848.81" y="209.2" width="3.9" height="21.0" fill="#fff" stroke="#e8524f" stroke-width="0.7"/>
<line x1="857.38" y1="208.5" x2="857.38" y2="218.9" stroke="#34913a" stroke-width="0.75"/>
<rect x="855.08" y="210.0" width="4.6" height="5.1" fill="#34913a"/>
<line x1="864.00" y1="196.3" x2="864.00" y2="201.3" stroke="#e8524f" stroke-width="0.75"/>
<rect x="862.05" y="201.7" width="3.9" height="7.4" fill="#fff" stroke="#e8524f" stroke-width="0.7"/>
<line x1="870.62" y1="198.6" x2="870.62" y2="217.2" stroke="#34913a" stroke-width="0.75"/>
<rect x="868.32" y="201.3" width="4.6" height="11.7" fill="#34913a"/>
<line x1="877.24" y1="203.2" x2="877.24" y2="211.3" stroke="#e8524f" stroke-width="0.75"/>
<line x1="877.24" y1="213.5" x2="877.24" y2="218.3" stroke="#e8524f" stroke-width="0.75"/>
<rect x="875.29" y="211.7" width="3.9" height="1.5" fill="#fff" stroke="#e8524f" stroke-width="0.7"/>
<line x1="883.86" y1="213.8" x2="883.86" y2="226.4" stroke="#34913a" stroke-width="0.75"/>
<rect x="881.56" y="213.8" width="4.6" height="8.5" fill="#34913a"/>
<line x1="890.48" y1="209.5" x2="890.48" y2="213.7" stroke="#e8524f" stroke-width="0.75"/>
<rect x="888.53" y="214.0" width="3.9" height="12.0" fill="#fff" stroke="#e8524f" stroke-width="0.7"/>
<line x1="897.10" y1="195.0" x2="897.10" y2="198.1" stroke="#e8524f" stroke-width="0.75"/>
<rect x="895.15" y="198.4" width="3.9" height="12.6" fill="#fff" stroke="#e8524f" stroke-width="0.7"/>
<rect x="901.77" y="168.8" width="3.9" height="24.7" fill="#fff" stroke="#e8524f" stroke-width="0.7"/>
<line x1="910.34" y1="153.3" x2="910.34" y2="174.9" stroke="#34913a" stroke-width="0.75"/>
<rect x="908.04" y="157.1" width="4.6" height="6.5" fill="#34913a"/>
<line x1="916.96" y1="151.0" x2="916.96" y2="153.3" stroke="#e8524f" stroke-width="0.75"/>
<rect x="915.01" y="153.7" width="3.9" height="14.4" fill="#fff" stroke="#e8524f" stroke-width="0.7"/>
<line x1="923.58" y1="153.3" x2="923.58" y2="172.2" stroke="#34913a" stroke-width="0.75"/>
<rect x="921.28" y="153.3" width="4.6" height="2.5" fill="#34913a"/>
<line x1="930.20" y1="140.2" x2="930.20" y2="143.5" stroke="#e8524f" stroke-width="0.75"/>
<rect x="928.25" y="130.5" width="3.9" height="9.3" fill="#fff" stroke="#e8524f" stroke-width="0.7"/>
<line x1="936.82" y1="122.6" x2="936.82" y2="137.7" stroke="#34913a" stroke-width="0.75"/>
<rect x="934.52" y="122.6" width="4.6" height="13.1" fill="#34913a"/>
<line x1="943.44" y1="133.2" x2="943.44" y2="144.8" stroke="#34913a" stroke-width="0.75"/>
<rect x="941.14" y="138.9" width="4.6" height="0.9" fill="#34913a"/>
<line x1="950.06" y1="141.0" x2="950.06" y2="155.8" stroke="#34913a" stroke-width="0.75"/>
<rect x="947.76" y="141.0" width="4.6" height="14.8" fill="#34913a"/>
<line x1="956.68" y1="140.2" x2="956.68" y2="147.3" stroke="#e8524f" stroke-width="0.75"/>
<rect x="954.73" y="147.7" width="3.9" height="10.6" fill="#fff" stroke="#e8524f" stroke-width="0.7"/>
<line x1="963.30" y1="146.0" x2="963.30" y2="161.1" stroke="#e8524f" stroke-width="0.75"/>
<rect x="961.35" y="144.3" width="3.9" height="1.3" fill="#fff" stroke="#e8524f" stroke-width="0.7"/>
<line x1="969.92" y1="135.0" x2="969.92" y2="136.5" stroke="#e8524f" stroke-width="0.75"/>
<line x1="969.92" y1="142.7" x2="969.92" y2="148.3" stroke="#e8524f" stroke-width="0.75"/>
<rect x="967.97" y="136.8" width="3.9" height="5.5" fill="#fff" stroke="#e8524f" stroke-width="0.7"/>
<line x1="976.54" y1="113.8" x2="976.54" y2="121.4" stroke="#e8524f" stroke-width="0.75"/>
<line x1="976.54" y1="138.5" x2="976.54" y2="141.0" stroke="#e8524f" stroke-width="0.75"/>
<rect x="974.59" y="121.8" width="3.9" height="16.4" fill="#fff" stroke="#e8524f" stroke-width="0.7"/>
<path d="M635.0 27.6 L627.0 27.6 M629.6 25.4 L627.0 27.6 L629.6 29.8" fill="none" stroke="#f0702c" stroke-width="0.7"/>
<text transform="translate(635.90 30.2) scale(0.90 1)" x="2.09 6.27 10.44 14.62 18.80 22.98 27.16" y="0" font-size="7.90" fill="#f0702c" style="font-family:'Liberation Sans','Noto Sans CJK SC',sans-serif" text-anchor="middle">1799.70</text>
<path d="M12.4 397.4 L4.4 397.4 M7.0 395.2 L4.4 397.4 L7.0 399.6" fill="none" stroke="#f0702c" stroke-width="0.7"/>
<text transform="translate(13.50 399.3) scale(0.90 1)" x="2.06 6.17 10.28 14.39 18.50 22.61 26.72" y="0" font-size="7.90" fill="#f0702c" style="font-family:'Liberation Sans','Noto Sans CJK SC',sans-serif" text-anchor="middle">1249.38</text>
<rect x="990.0" y="219" width="34.0" height="8.6" fill="#efefef"/>
<text transform="translate(995.40 226.2) scale(0.90 1)" x="2.04 6.13 10.22 14.31 18.40 22.49 26.58" y="0" font-size="7.90" fill="#333" style="font-family:'Liberation Sans','Noto Sans CJK SC',sans-serif" text-anchor="middle">1500.19</text>
<line x1="0" y1="406.4" x2="989.6" y2="406.4" stroke="#e6e6e6" stroke-width="0.8"/>
<line x1="989.6" y1="407" x2="1024" y2="407" stroke="#ebebeb" stroke-width="1.2"/>
<line x1="989.6" y1="400" x2="989.6" y2="516" stroke="#ececec" stroke-width="0.8"/>
<line x1="0" y1="421.3" x2="989.6" y2="421.3" stroke="#e0e0e0" stroke-width="0.7" stroke-dasharray="1 1.6"/>
<text transform="translate(995.40 423.7) scale(0.90 1)" x="2.04 6.13 10.22 14.31 18.40 22.49 26.58" y="0" font-size="7.90" fill="#8a8a8a" style="font-family:'Liberation Sans','Noto Sans CJK SC',sans-serif" text-anchor="middle">7622.00</text>
<line x1="0" y1="440.3" x2="989.6" y2="440.3" stroke="#e0e0e0" stroke-width="0.7" stroke-dasharray="1 1.6"/>
<text transform="translate(995.40 442.7) scale(0.90 1)" x="2.04 6.13 10.22 14.31 18.40 22.49 26.58" y="0" font-size="7.90" fill="#8a8a8a" style="font-family:'Liberation Sans','Noto Sans CJK SC',sans-serif" text-anchor="middle">6028.00</text>
<line x1="0" y1="459.1" x2="989.6" y2="459.1" stroke="#e0e0e0" stroke-width="0.7" stroke-dasharray="1 1.6"/>
<text transform="translate(995.40 461.5) scale(0.90 1)" x="2.04 6.13 10.22 14.31 18.40 22.49 26.58" y="0" font-size="7.90" fill="#8a8a8a" style="font-family:'Liberation Sans','Noto Sans CJK SC',sans-serif" text-anchor="middle">4533.00</text>
<line x1="0" y1="477.7" x2="989.6" y2="477.7" stroke="#e0e0e0" stroke-width="0.7" stroke-dasharray="1 1.6"/>
<text transform="translate(995.40 480.1) scale(0.90 1)" x="2.04 6.13 10.22 14.31 18.40 22.49 26.58" y="0" font-size="7.90" fill="#8a8a8a" style="font-family:'Liberation Sans','Noto Sans CJK SC',sans-serif" text-anchor="middle">3039.00</text>
<line x1="0" y1="496.1" x2="989.6" y2="496.1" stroke="#e0e0e0" stroke-width="0.7" stroke-dasharray="1 1.6"/>
<text transform="translate(995.40 498.5) scale(0.90 1)" x="2.04 6.13 10.22 14.31 18.40 22.49 26.58" y="0" font-size="7.90" fill="#8a8a8a" style="font-family:'Liberation Sans','Noto Sans CJK SC',sans-serif" text-anchor="middle">1544.00</text>
<text transform="translate(1006.50 512.6) scale(0.90 1)" x="2.04 6.13 10.22 14.31" y="0" font-size="7.90" fill="#8a8a8a" style="font-family:'Liberation Sans','Noto Sans CJK SC',sans-serif" text-anchor="middle">0.00</text>
<rect x="1.2" y="409.8" width="8.2" height="8.6" fill="#fff" stroke="#c8c8c8" stroke-width="0.7" rx="0.8"/>
<text x="5.3" y="416.6" font-size="6.60" fill="#888" text-anchor="middle">?</text>
<text x="13.90" y="416.2" font-size="8.10" fill="#666" style="font-family:'Liberation Mono','Noto Sans CJK SC',monospace" textLength="18.75" lengthAdjust="spacingAndGlyphs">VOLTV</text>
<text x="37.50" y="416.2" font-size="8.10" fill="#33339a" style="font-family:'Liberation Mono','Noto Sans CJK SC',monospace" textLength="14.80" lengthAdjust="spacingAndGlyphs" font-weight="bold">VVOL</text>
<text transform="translate(37.50 416.2) scale(0.90 1)" x="18.50 22.61 26.72 30.83 34.94 39.06 43.17 47.28 51.39" y="0" font-size="7.90" fill="#33339a" style="font-family:'Liberation Sans','Noto Sans CJK SC',sans-serif" text-anchor="middle">:4382.170</text>
<text x="85.2" y="416.9" font-size="8.00" fill="#33339a">万</text>
<path d="M99.0 410.2 L99.0 418.4 M97.0 415.8 L99.0 418.4 L101.0 415.8" fill="none" stroke="#33339a" stroke-width="0.7"/>
<text x="104.80" y="416.2" font-size="8.10" fill="#888" style="font-family:'Liberation Mono','Noto Sans CJK SC',monospace" textLength="22.20" lengthAdjust="spacingAndGlyphs">VOLUME</text>
<text transform="translate(104.80 416.2) scale(0.90 1)" x="26.72 30.83 34.94 39.06 43.17 47.28 51.39 55.50 59.61" y="0" font-size="7.90" fill="#888" style="font-family:'Liberation Sans','Noto Sans CJK SC',sans-serif" text-anchor="middle">:4382.170</text>
<text x="159.9" y="416.9" font-size="8.00" fill="#888">万</text>
<path d="M173.3 418.4 L173.3 410.2 M171.3 412.8 L173.3 410.2 L175.3 412.8" fill="none" stroke="#999" stroke-width="0.7"/>
<text x="178.90" y="416.2" font-size="8.10" fill="#a33030" style="font-family:'Liberation Mono','Noto Sans CJK SC',monospace" textLength="18.65" lengthAdjust="spacingAndGlyphs">MAVOL</text>
<text transform="translate(178.90 416.2) scale(0.90 1)" x="22.79 26.94 31.08 35.23 39.37 43.52 47.66 51.81 55.95 60.09" y="0" font-size="7.90" fill="#a33030" style="font-family:'Liberation Sans','Noto Sans CJK SC',sans-serif" text-anchor="middle">1:3291.071</text>
<text x="235.0" y="416.9" font-size="8.00" fill="#a33030">万</text>
<path d="M248.5 418.4 L248.5 410.2 M246.5 412.8 L248.5 410.2 L250.5 412.8" fill="none" stroke="#a33030" stroke-width="0.7"/>
<text x="254.00" y="416.2" font-size="8.10" fill="#34913a" style="font-family:'Liberation Mono','Noto Sans CJK SC',monospace" textLength="18.50" lengthAdjust="spacingAndGlyphs">MAVOL</text>
<text transform="translate(254.00 416.2) scale(0.90 1)" x="22.61 26.72 30.83 34.94 39.06 43.17 47.28 51.39 55.50 59.61" y="0" font-size="7.90" fill="#34913a" style="font-family:'Liberation Sans','Noto Sans CJK SC',sans-serif" text-anchor="middle">2:3390.780</text>
<text x="309.5" y="416.9" font-size="8.00" fill="#34913a">万</text>
<path d="M323.6 418.4 L323.6 410.2 M321.6 412.8 L323.6 410.2 L325.6 412.8" fill="none" stroke="#34913a" stroke-width="0.7"/>
<text x="894.7" y="417.0" font-size="7.60" fill="#555" textLength="22.8" lengthAdjust="spacingAndGlyphs">改参数</text>
<text x="922.9" y="417.0" font-size="7.60" fill="#555" textLength="22.6" lengthAdjust="spacingAndGlyphs">加指标</text>
<text x="951.2" y="417.0" font-size="7.60" fill="#555" textLength="22.4" lengthAdjust="spacingAndGlyphs">换指标</text>
<rect x="979.4" y="409.7" width="8.1" height="8.8" rx="1" fill="#fff" stroke="#b8b8b8" stroke-width="0.7"/>
<path d="M981.3 412 L985.6 416.3 M985.6 412 L981.3 416.3" stroke="#666" stroke-width="0.7" fill="none"/>
<line x1="0" y1="514.5" x2="989.6" y2="514.5" stroke="#e0e0e0" stroke-width="0.7" stroke-dasharray="1 1.6"/>
<rect x="1.10" y="472.4" width="4.6" height="42.4" fill="#34913a"/>
<rect x="8.07" y="475.8" width="3.9" height="38.7" fill="#fff" stroke="#e8524f" stroke-width="0.7"/>
<rect x="14.34" y="476.9" width="4.6" height="37.9" fill="#34913a"/>
<rect x="20.96" y="482.4" width="4.6" height="32.4" fill="#34913a"/>
<rect x="27.58" y="480.5" width="4.6" height="34.3" fill="#34913a"/>
<rect x="34.55" y="462.7" width="3.9" height="51.8" fill="#fff" stroke="#e8524f" stroke-width="0.7"/>
<rect x="41.17" y="462.7" width="3.9" height="51.8" fill="#fff" stroke="#e8524f" stroke-width="0.7"/>
<rect x="47.79" y="468.4" width="3.9" height="46.1" fill="#fff" stroke="#e8524f" stroke-width="0.7"/>
<rect x="54.41" y="461.1" width="3.9" height="53.4" fill="#fff" stroke="#e8524f" stroke-width="0.7"/>
<rect x="60.68" y="477.4" width="4.6" height="37.4" fill="#34913a"/>
<rect x="67.65" y="456.7" width="3.9" height="57.8" fill="#fff" stroke="#e8524f" stroke-width="0.7"/>
<rect x="74.27" y="462.7" width="3.9" height="51.8" fill="#fff" stroke="#e8524f" stroke-width="0.7"/>
<rect x="80.54" y="462.6" width="4.6" height="52.2" fill="#34913a"/>
<rect x="87.16" y="469.3" width="4.6" height="45.5" fill="#34913a"/>
<rect x="94.13" y="461.1" width="3.9" height="53.4" fill="#fff" stroke="#e8524f" stroke-width="0.7"/>
<rect x="100.40" y="456.3" width="4.6" height="58.5" fill="#34913a"/>
<rect x="107.37" y="472.7" width="3.9" height="41.8" fill="#fff" stroke="#e8524f" stroke-width="0.7"/>
<rect x="113.99" y="454.8" width="3.9" height="59.7" fill="#fff" stroke="#e8524f" stroke-width="0.7"/>
<rect x="120.61" y="443.7" width="3.9" height="70.8" fill="#fff" stroke="#e8524f" stroke-width="0.7"/>
<rect x="127.23" y="451.6" width="3.9" height="62.9" fill="#fff" stroke="#e8524f" stroke-width="0.7"/>
<rect x="133.85" y="443.7" width="3.9" height="70.8" fill="#fff" stroke="#e8524f" stroke-width="0.7"/>
<rect x="140.47" y="431.9" width="3.9" height="82.6" fill="#fff" stroke="#e8524f" stroke-width="0.7"/>
<rect x="146.74" y="425.8" width="4.6" height="89.0" fill="#34913a"/>
<rect x="153.71" y="443.8" width="3.9" height="70.7" fill="#fff" stroke="#e8524f" stroke-width="0.7"/>
<rect x="159.98" y="445.0" width="4.6" height="69.8" fill="#34913a"/>
<rect x="166.60" y="445.4" width="4.6" height="69.4" fill="#34913a"/>
<rect x="173.22" y="434.2" width="4.6" height="80.6" fill="#34913a"/>
<rect x="180.19" y="437.0" width="3.9" height="77.5" fill="#fff" stroke="#e8524f" stroke-width="0.7"/>
<rect x="186.81" y="434.6" width="3.9" height="79.9" fill="#fff" stroke="#e8524f" stroke-width="0.7"/>
<rect x="193.43" y="434.6" width="3.9" height="79.9" fill="#fff" stroke="#e8524f" stroke-width="0.7"/>
<rect x="199.70" y="431.3" width="4.6" height="83.5" fill="#34913a"/>
<rect x="206.67" y="436.6" width="3.9" height="77.9" fill="#fff" stroke="#e8524f" stroke-width="0.7"/>
<rect x="212.94" y="446.8" width="4.6" height="68.0" fill="#34913a"/>
<rect x="219.91" y="446.8" width="3.9" height="67.7" fill="#fff" stroke="#e8524f" stroke-width="0.7"/>
<rect x="226.18" y="449.3" width="4.6" height="65.5" fill="#34913a"/>
<rect x="233.15" y="447.8" width="3.9" height="66.7" fill="#fff" stroke="#e8524f" stroke-width="0.7"/>
<rect x="239.77" y="445.2" width="3.9" height="69.3" fill="#fff" stroke="#e8524f" stroke-width="0.7"/>
<rect x="246.04" y="445.4" width="4.6" height="69.4" fill="#34913a"/>
<rect x="252.66" y="458.6" width="4.6" height="56.2" fill="#34913a"/>
<rect x="259.63" y="466.0" width="3.9" height="48.5" fill="#fff" stroke="#e8524f" stroke-width="0.7"/>
<rect x="266.25" y="460.9" width="3.9" height="53.6" fill="#fff" stroke="#e8524f" stroke-width="0.7"/>
<rect x="272.52" y="465.4" width="4.6" height="49.4" fill="#34913a"/>
<rect x="279.49" y="454.6" width="3.9" height="59.9" fill="#fff" stroke="#e8524f" stroke-width="0.7"/>
<rect x="286.11" y="469.4" width="3.9" height="45.1" fill="#fff" stroke="#e8524f" stroke-width="0.7"/>
<rect x="292.73" y="467.8" width="3.9" height="46.7" fill="#fff" stroke="#e8524f" stroke-width="0.7"/>
<rect x="299.00" y="459.1" width="4.6" height="55.7" fill="#34913a"/>
<rect x="305.62" y="470.3" width="4.6" height="44.5" fill="#34913a"/>
<rect x="312.24" y="475.2" width="4.6" height="39.6" fill="#34913a"/>
<rect x="318.86" y="483.7" width="4.6" height="31.1" fill="#34913a"/>
<rect x="325.48" y="483.7" width="4.6" height="31.1" fill="#34913a"/>
<rect x="332.45" y="482.5" width="3.9" height="32.0" fill="#fff" stroke="#e8524f" stroke-width="0.7"/>
<rect x="338.72" y="478.2" width="4.6" height="36.6" fill="#34913a"/>
<rect x="345.69" y="483.8" width="3.9" height="30.7" fill="#fff" stroke="#e8524f" stroke-width="0.7"/>
<rect x="351.96" y="482.7" width="4.6" height="32.1" fill="#34913a"/>
<rect x="358.93" y="485.6" width="3.9" height="28.9" fill="#fff" stroke="#e8524f" stroke-width="0.7"/>
<rect x="365.55" y="482.1" width="3.9" height="32.4" fill="#fff" stroke="#e8524f" stroke-width="0.7"/>
<rect x="371.82" y="483.1" width="4.6" height="31.7" fill="#34913a"/>
<rect x="378.44" y="480.1" width="4.6" height="34.7" fill="#34913a"/>
<rect x="385.06" y="477.4" width="4.6" height="37.4" fill="#34913a"/>
<rect x="391.68" y="477.0" width="4.6" height="37.8" fill="#34913a"/>
<rect x="398.30" y="483.1" width="4.6" height="31.7" fill="#34913a"/>
<rect x="405.27" y="484.7" width="3.9" height="29.8" fill="#fff" stroke="#e8524f" stroke-width="0.7"/>
<rect x="411.54" y="480.7" width="4.6" height="34.1" fill="#34913a"/>
<rect x="418.51" y="484.7" width="3.9" height="29.8" fill="#fff" stroke="#e8524f" stroke-width="0.7"/>
<rect x="424.78" y="483.1" width="4.6" height="31.7" fill="#34913a"/>
<rect x="431.75" y="487.0" width="3.9" height="27.5" fill="#fff" stroke="#e8524f" stroke-width="0.7"/>
<rect x="438.37" y="475.8" width="3.9" height="38.7" fill="#fff" stroke="#e8524f" stroke-width="0.7"/>
<rect x="444.64" y="481.7" width="4.6" height="33.1" fill="#34913a"/>
<rect x="451.61" y="484.1" width="3.9" height="30.4" fill="#fff" stroke="#e8524f" stroke-width="0.7"/>
<rect x="457.88" y="486.0" width="4.6" height="28.8" fill="#34913a"/>
<rect x="464.85" y="484.7" width="3.9" height="29.8" fill="#fff" stroke="#e8524f" stroke-width="0.7"/>
<rect x="471.12" y="486.0" width="4.6" height="28.8" fill="#34913a"/>
<rect x="477.74" y="484.7" width="4.6" height="30.1" fill="#34913a"/>
<rect x="484.36" y="476.4" width="4.6" height="38.4" fill="#34913a"/>
<rect x="491.33" y="478.6" width="3.9" height="35.9" fill="#fff" stroke="#e8524f" stroke-width="0.7"/>
<rect x="497.60" y="484.1" width="4.6" height="30.7" fill="#34913a"/>
<rect x="504.57" y="484.1" width="3.9" height="30.4" fill="#fff" stroke="#e8524f" stroke-width="0.7"/>
<rect x="511.19" y="472.7" width="3.9" height="41.8" fill="#fff" stroke="#e8524f" stroke-width="0.7"/>
<rect x="517.81" y="464.6" width="3.9" height="49.9" fill="#fff" stroke="#e8524f" stroke-width="0.7"/>
<rect x="524.43" y="470.7" width="3.9" height="43.8" fill="#fff" stroke="#e8524f" stroke-width="0.7"/>
<rect x="530.70" y="475.2" width="4.6" height="39.6" fill="#34913a"/>
<rect x="537.67" y="461.4" width="3.9" height="53.1" fill="#fff" stroke="#e8524f" stroke-width="0.7"/>
<rect x="544.29" y="448.4" width="3.9" height="66.1" fill="#fff" stroke="#e8524f" stroke-width="0.7"/>
<rect x="550.91" y="461.5" width="3.9" height="53.0" fill="#fff" stroke="#e8524f" stroke-width="0.7"/>
<rect x="557.18" y="462.1" width="4.6" height="52.7" fill="#34913a"/>
<rect x="564.15" y="451.7" width="3.9" height="62.8" fill="#fff" stroke="#e8524f" stroke-width="0.7"/>
<rect x="570.77" y="459.9" width="3.9" height="54.6" fill="#fff" stroke="#e8524f" stroke-width="0.7"/>
<rect x="577.39" y="454.6" width="3.9" height="59.9" fill="#fff" stroke="#e8524f" stroke-width="0.7"/>
<rect x="584.01" y="435.4" width="3.9" height="79.1" fill="#fff" stroke="#e8524f" stroke-width="0.7"/>
<rect x="590.63" y="444.8" width="3.9" height="69.7" fill="#fff" stroke="#e8524f" stroke-width="0.7"/>
<rect x="597.25" y="450.2" width="3.9" height="64.2" fill="#fff" stroke="#e8524f" stroke-width="0.7"/>
<rect x="603.87" y="448.4" width="3.9" height="66.1" fill="#fff" stroke="#e8524f" stroke-width="0.7"/>
<rect x="610.49" y="432.5" width="3.9" height="82.0" fill="#fff" stroke="#e8524f" stroke-width="0.7"/>
<rect x="616.76" y="433.6" width="4.6" height="81.2" fill="#34913a"/>
<rect x="623.73" y="421.7" width="3.9" height="92.8" fill="#fff" stroke="#e8524f" stroke-width="0.7"/>
<rect x="630.00" y="443.8" width="4.6" height="71.0" fill="#34913a"/>
<rect x="636.62" y="461.1" width="4.6" height="53.7" fill="#34913a"/>
<rect x="643.59" y="444.4" width="3.9" height="70.1" fill="#fff" stroke="#e8524f" stroke-width="0.7"/>
<rect x="649.86" y="449.7" width="4.6" height="65.1" fill="#34913a"/>
<rect x="656.83" y="460.9" width="3.9" height="53.6" fill="#fff" stroke="#e8524f" stroke-width="0.7"/>
<rect x="663.10" y="462.7" width="4.6" height="52.1" fill="#34913a"/>
<rect x="670.07" y="456.6" width="3.9" height="57.9" fill="#fff" stroke="#e8524f" stroke-width="0.7"/>
<rect x="676.34" y="456.2" width="4.6" height="58.6" fill="#34913a"/>
<rect x="683.31" y="454.6" width="3.9" height="59.9" fill="#fff" stroke="#e8524f" stroke-width="0.7"/>
<rect x="689.93" y="459.5" width="3.9" height="55.0" fill="#fff" stroke="#e8524f" stroke-width="0.7"/>
<rect x="696.55" y="457.6" width="3.9" height="56.9" fill="#fff" stroke="#e8524f" stroke-width="0.7"/>
<rect x="702.82" y="457.8" width="4.6" height="57.0" fill="#34913a"/>
<rect x="709.44" y="466.4" width="4.6" height="48.4" fill="#34913a"/>
<rect x="716.06" y="458.2" width="4.6" height="56.6" fill="#34913a"/>
<rect x="722.68" y="466.0" width="4.6" height="48.8" fill="#34913a"/>
<rect x="729.65" y="474.2" width="3.9" height="40.2" fill="#fff" stroke="#e8524f" stroke-width="0.7"/>
<rect x="736.27" y="474.7" width="3.9" height="39.8" fill="#fff" stroke="#e8524f" stroke-width="0.7"/>
<rect x="742.54" y="471.3" width="4.6" height="43.5" fill="#34913a"/>
<rect x="749.16" y="473.9" width="4.6" height="40.9" fill="#34913a"/>
<rect x="755.78" y="472.5" width="4.6" height="42.3" fill="#34913a"/>
<rect x="762.75" y="480.7" width="3.9" height="33.8" fill="#fff" stroke="#e8524f" stroke-width="0.7"/>
<rect x="769.37" y="482.1" width="3.9" height="32.4" fill="#fff" stroke="#e8524f" stroke-width="0.7"/>
<rect x="775.64" y="480.1" width="4.6" height="34.7" fill="#34913a"/>
<rect x="782.26" y="458.6" width="4.6" height="56.2" fill="#34913a"/>
<rect x="789.23" y="455.8" width="3.9" height="58.7" fill="#fff" stroke="#e8524f" stroke-width="0.7"/>
<rect x="795.85" y="458.0" width="3.9" height="56.5" fill="#fff" stroke="#e8524f" stroke-width="0.7"/>
<rect x="802.47" y="464.8" width="3.9" height="49.7" fill="#fff" stroke="#e8524f" stroke-width="0.7"/>
<rect x="809.09" y="475.8" width="3.9" height="38.7" fill="#fff" stroke="#e8524f" stroke-width="0.7"/>
<rect x="815.71" y="474.2" width="3.9" height="40.2" fill="#fff" stroke="#e8524f" stroke-width="0.7"/>
<rect x="822.33" y="478.8" width="3.9" height="35.7" fill="#fff" stroke="#e8524f" stroke-width="0.7"/>
<rect x="828.60" y="478.2" width="4.6" height="36.6" fill="#34913a"/>
<rect x="835.57" y="485.4" width="3.9" height="29.1" fill="#fff" stroke="#e8524f" stroke-width="0.7"/>
<rect x="842.19" y="486.6" width="3.9" height="27.9" fill="#fff" stroke="#e8524f" stroke-width="0.7"/>
<rect x="848.81" y="483.5" width="3.9" height="31.0" fill="#fff" stroke="#e8524f" stroke-width="0.7"/>
<rect x="855.08" y="482.7" width="4.6" height="32.1" fill="#34913a"/>
<rect x="862.05" y="478.8" width="3.9" height="35.7" fill="#fff" stroke="#e8524f" stroke-width="0.7"/>
<rect x="868.32" y="478.4" width="4.6" height="36.4" fill="#34913a"/>
<rect x="875.29" y="481.1" width="3.9" height="33.4" fill="#fff" stroke="#e8524f" stroke-width="0.7"/>
<rect x="881.56" y="480.7" width="4.6" height="34.1" fill="#34913a"/>
<rect x="888.53" y="482.5" width="3.9" height="32.0" fill="#fff" stroke="#e8524f" stroke-width="0.7"/>
<rect x="895.15" y="475.8" width="3.9" height="38.7" fill="#fff" stroke="#e8524f" stroke-width="0.7"/>
<rect x="901.77" y="471.9" width="3.9" height="42.6" fill="#fff" stroke="#e8524f" stroke-width="0.7"/>
<rect x="908.39" y="470.9" width="3.9" height="43.6" fill="#fff" stroke="#e8524f" stroke-width="0.7"/>
<rect x="915.01" y="478.6" width="3.9" height="35.9" fill="#fff" stroke="#e8524f" stroke-width="0.7"/>
<rect x="921.28" y="477.2" width="4.6" height="37.6" fill="#34913a"/>
<rect x="928.25" y="465.8" width="3.9" height="48.7" fill="#fff" stroke="#e8524f" stroke-width="0.7"/>
<rect x="934.52" y="465.9" width="4.6" height="48.9" fill="#34913a"/>
<rect x="941.14" y="473.0" width="4.6" height="41.8" fill="#34913a"/>
<rect x="947.76" y="477.7" width="4.6" height="37.1" fill="#34913a"/>
<rect x="954.73" y="477.6" width="3.9" height="36.9" fill="#fff" stroke="#e8524f" stroke-width="0.7"/>
<rect x="961.35" y="479.4" width="3.9" height="35.1" fill="#fff" stroke="#e8524f" stroke-width="0.7"/>
<rect x="967.97" y="477.6" width="3.9" height="36.9" fill="#fff" stroke="#e8524f" stroke-width="0.7"/>
<rect x="974.59" y="461.2" width="3.9" height="53.2" fill="#fff" stroke="#e8524f" stroke-width="0.7"/>
<polyline points="3.4,461.0 10.0,459.4 16.6,459.4 23.3,459.4 29.9,459.4 36.5,459.8 43.1,464.1 49.7,468.8 56.4,470.7 63.0,471.8 69.6,470.2 76.2,468.9 82.8,467.5 89.5,466.2 96.1,464.2 102.7,463.6 109.3,464.6 115.9,463.2 122.6,461.5 129.2,458.9 135.8,457.6 142.4,454.5 149.0,450.8 155.7,448.2 162.3,446.6 168.9,445.6 175.5,441.8 182.1,440.0 188.8,439.1 195.4,437.4 202.0,436.2 208.6,436.6 215.2,438.7 221.9,439.0 228.5,439.5 235.1,439.7 241.7,440.7 248.3,441.6 255.0,444.0 261.6,447.2 268.2,450.1 274.8,453.0 281.4,453.8 288.1,456.0 294.7,457.8 301.3,459.0 307.9,461.6 314.5,464.5 321.2,467.0 327.8,468.9 334.4,471.0 341.0,472.3 347.6,475.2 354.3,476.6 360.9,478.4 367.5,480.6 374.1,481.9 380.7,482.4 387.4,481.8 394.0,481.1 400.6,481.2 407.2,481.8 413.8,481.5 420.5,481.7 427.1,481.5 433.7,482.0 440.3,481.2 446.9,481.4 453.6,482.0 460.2,482.9 466.8,483.0 473.4,483.2 480.0,483.6 486.7,482.8 493.3,482.3 499.9,482.1 506.5,482.9 513.1,481.9 519.8,480.0 526.4,478.4 533.0,477.5 539.6,475.0 546.2,471.3 552.9,469.8 559.5,468.2 566.1,464.9 572.7,462.5 579.3,460.7 586.0,457.8 592.6,455.2 599.2,452.6 605.8,451.4 612.4,449.8 619.1,447.0 625.7,442.9 632.3,442.2 638.9,442.3 645.5,441.3 652.2,442.8 658.8,444.4 665.4,445.7 672.0,446.5 678.6,448.9 685.3,451.0 691.9,454.8 698.5,456.1 705.1,455.8 711.7,458.0 718.4,458.9 725.0,459.4 731.6,460.5 738.2,462.3 744.8,463.8 751.5,465.8 758.1,467.1 764.7,469.5 771.3,471.9 777.9,473.2 784.6,473.3 791.2,472.2 797.8,470.6 804.4,469.6 811.0,470.0 817.7,470.0 824.3,470.6 830.9,470.4 837.5,470.7 844.1,471.3 850.8,473.8 857.4,476.5 864.0,478.6 870.6,480.0 877.2,480.5 883.9,481.2 890.5,481.6 897.1,481.3 903.7,479.9 910.3,478.4 917.0,477.9 923.6,477.3 930.2,476.0 936.8,474.8 943.4,474.0 950.1,473.7 956.7,473.2 963.3,473.6 969.9,474.1 976.5,473.2" fill="none" stroke="#3a9a3a" stroke-width="0.75" stroke-linejoin="round"/>
<polyline points="3.4,443.3 10.0,451.6 16.6,464.9 23.3,474.3 29.9,477.5 36.5,475.5 43.1,472.9 49.7,471.1 56.4,466.8 63.0,466.1 69.6,464.9 76.2,464.9 82.8,463.9 89.5,465.6 96.1,462.2 102.7,462.2 109.3,464.2 115.9,462.6 122.6,457.4 129.2,455.5 135.8,452.9 142.4,444.7 149.0,439.0 155.7,439.0 162.3,437.8 168.9,438.2 175.5,438.8 182.1,440.9 188.8,439.1 195.4,436.9 202.0,434.1 208.6,434.5 215.2,436.5 221.9,439.0 228.5,442.0 235.1,445.2 241.7,446.9 248.3,446.7 255.0,449.1 261.6,452.4 268.2,455.0 274.8,459.1 281.4,460.9 288.1,462.9 294.7,463.3 301.3,463.0 307.9,464.0 314.5,468.2 321.2,471.1 327.8,474.4 334.4,479.0 341.0,480.6 347.6,482.2 354.3,482.0 360.9,482.3 367.5,482.2 374.1,483.2 380.7,482.6 387.4,481.5 394.0,479.9 400.6,480.1 407.2,480.4 413.8,480.5 420.5,481.9 427.1,483.1 433.7,483.8 440.3,482.0 446.9,482.2 453.6,482.1 460.2,482.7 466.8,482.2 473.4,484.3 480.0,484.9 486.7,483.5 493.3,481.9 499.9,481.9 506.5,481.4 513.1,478.9 519.8,476.5 526.4,474.9 533.0,473.1 539.6,468.6 546.2,463.7 552.9,463.1 559.5,461.5 566.1,456.7 572.7,456.4 579.3,457.6 586.0,452.4 592.6,448.9 599.2,448.6 605.8,446.3 612.4,441.9 619.1,441.6 625.7,437.0 632.3,435.8 638.9,438.4 645.5,440.8 652.2,444.0 658.8,451.8 665.4,455.6 672.0,454.6 678.6,457.1 685.3,458.0 691.9,457.7 698.5,456.6 705.1,456.9 711.7,458.9 718.4,459.7 725.0,461.1 731.6,464.5 738.2,467.8 744.8,468.7 751.5,471.9 758.1,473.2 764.7,474.5 771.3,475.9 777.9,477.7 784.6,474.6 791.2,471.2 797.8,466.7 804.4,463.2 811.0,462.3 817.7,465.3 824.3,469.9 830.9,474.1 837.5,478.2 844.1,480.3 850.8,482.2 857.4,483.0 864.0,483.1 870.6,481.8 877.2,480.7 883.9,480.2 890.5,480.1 897.1,479.5 903.7,478.1 910.3,476.0 917.0,475.5 923.6,474.6 930.2,472.6 936.8,471.4 943.4,471.9 950.1,471.8 956.7,471.8 963.3,474.6 969.9,476.8 976.5,474.4" fill="none" stroke="#932a2a" stroke-width="0.75" stroke-linejoin="round"/>
<line x1="0" y1="516.1" x2="1024" y2="516.1" stroke="#e6e6e6" stroke-width="0.8"/>
<rect x="0.8" y="517.4" width="8" height="8" fill="#fff"/>
<rect x="1015.4" y="517.4" width="8.6" height="8" fill="#fff"/>
<path d="M5.0 519.6 L2.0 522.6 L5.0 525.6 M8.0 519.6 L5.0 522.6 L8.0 525.6" fill="none" stroke="#999" stroke-width="0.75"/>
<path d="M1017.2 519.6 L1020.2 522.6 L1017.2 525.6 M1020.2 519.6 L1023.2 522.6 L1020.2 525.6" fill="none" stroke="#999" stroke-width="0.75"/>
<text transform="translate(104.20 525.1) scale(0.90 1)" x="2.00 6.00" y="0" font-size="7.90" fill="#777" style="font-family:'Liberation Sans','Noto Sans CJK SC',sans-serif" text-anchor="middle">11</text>
<text transform="translate(243.70 525.1) scale(0.90 1)" x="2.00 6.00" y="0" font-size="7.90" fill="#777" style="font-family:'Liberation Sans','Noto Sans CJK SC',sans-serif" text-anchor="middle">12</text>
<text transform="translate(389.00 525.1) scale(0.90 1)" x="2.00 6.00 10.00 14.00" y="0" font-size="7.90" fill="#222" style="font-family:'Liberation Sans','Noto Sans CJK SC',sans-serif" text-anchor="middle">2025</text>
<text transform="translate(507.80 525.1) scale(0.90 1)" x="2.00 6.00" y="0" font-size="7.90" fill="#777" style="font-family:'Liberation Sans','Noto Sans CJK SC',sans-serif" text-anchor="middle">02</text>
<rect x="579.4" y="517" width="55" height="8" fill="#e9e9e9"/>
<text transform="translate(582.60 525.1) scale(0.90 1)" x="2.03 6.10 10.17 14.23 18.30 22.37 26.43 30.50 34.57 38.63 42.70" y="0" font-size="7.90" fill="#333" style="font-family:'Liberation Sans','Noto Sans CJK SC',sans-serif" text-anchor="middle">2025/02/20/</text>
<text x="623.0" y="525.7" font-size="7.40" fill="#333">四</text>
<text transform="translate(766.20 525.1) scale(0.90 1)" x="2.06 6.17" y="0" font-size="7.90" fill="#777" style="font-family:'Liberation Sans','Noto Sans CJK SC',sans-serif" text-anchor="middle">04</text>
<text transform="translate(905.10 525.1) scale(0.90 1)" x="2.00 6.00" y="0" font-size="7.90" fill="#777" style="font-family:'Liberation Sans','Noto Sans CJK SC',sans-serif" text-anchor="middle">05</text>
</svg></body></html>
